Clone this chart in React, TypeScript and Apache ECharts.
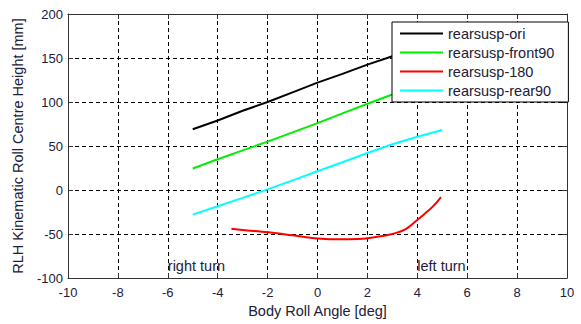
import React, { useEffect, useRef } from "react";
import * as echarts from "echarts";

// Body roll angle [deg] vs. kinematic roll centre height [mm]
const oriX = [-5, -4, -3, -2, -1, 0, 1, 2, 3, 4, 5];
const oriY = [69, 79, 90, 100, 111, 122, 132, 142.5, 152, 162, 172];

const front90X = [-5, -4, -3, -2, -1, 0, 1, 2, 3, 4, 5];
const front90Y = [24.5, 35, 45, 55, 65.5, 76, 87, 98, 108.5, 119, 129];

const rear90X = [-5, -4, -3, -2, -1, 0, 1, 2, 3, 4, 5];
const rear90Y = [-28, -18.5, -9, 0.7, 11, 21.3, 31.5, 42, 52, 60.5, 68.2];

const rear180X = [-3.45, -3, -2, -1, 0, 1, 1.8, 2.2, 2.6, 3, 3.5, 4, 4.3, 4.65, 4.95];
const rear180Y = [-44, -45.5, -48, -51.5, -55, -56, -55.5, -54, -52.3, -50, -45, -34, -27, -18, -8];

const seriesNames = ["rearsusp-ori", "rearsusp-front90", "rearsusp-180", "rearsusp-rear90"];
const seriesColors = ["#000000", "#00ee00", "#ff0000", "#00ffff"];

const turnLabels = ["right turn", "left turn"];
const turnX = [-6, 4];
const turnY = [-86, -86];

const xTicks = { min: -10, max: 10, interval: 2 };
const yTicks = { min: -100, max: 200, interval: 50 };

const textColor = "#20203a";
const fontFamily = "'Liberation Sans', Arial, sans-serif";

const pairs = (xs: number[], ys: number[]) => xs.map((x, i) => [x, ys[i]]);

export default function App() {
  const ref = useRef<HTMLDivElement>(null);

  useEffect(() => {
    if (!ref.current) return;
    const chart = echarts.init(ref.current, undefined, { renderer: "svg" });

    const lineData = [
      pairs(oriX, oriY),
      pairs(front90X, front90Y),
      pairs(rear180X, rear180Y),
      pairs(rear90X, rear90Y),
    ];

    const axisLine = { show: true, onZero: false, lineStyle: { color: "#333", width: 1 } };
    const axisTick = { show: true, inside: true, length: 5, lineStyle: { color: "#333" } };
    const splitLine = { show: true, lineStyle: { color: "#000", type: [4, 3] as any, width: 1 } };
    const tickStyle = { color: textColor, fontSize: 13, fontFamily };
    const textStyle = { color: textColor, fontSize: 14.5, fontFamily };

    chart.setOption({
      animation: false,
      backgroundColor: "#fff",
      textStyle: { fontFamily },
      grid: { left: 68, right: 14, top: 14, bottom: 46, containLabel: false },
      xAxis: [
        {
          type: "value",
          ...xTicks,
          position: "bottom",
          axisLine,
          axisTick,
          splitLine,
          axisLabel: { ...tickStyle, margin: 8 },
          name: "Body Roll Angle [deg]",
          nameLocation: "middle",
          nameGap: 24,
          nameTextStyle: { ...textStyle },
        },
        {
          type: "value",
          ...xTicks,
          position: "top",
          axisLine,
          axisTick,
          splitLine: { show: false },
          axisLabel: { show: false },
        },
      ],
      yAxis: [
        {
          type: "value",
          ...yTicks,
          position: "left",
          axisLine,
          axisTick,
          splitLine,
          axisLabel: { ...tickStyle, margin: 5 },
          name: "RLH Kinematic Roll Centre Height [mm]",
          nameLocation: "middle",
          nameGap: 43,
          nameTextStyle: { ...textStyle },
        },
        {
          type: "value",
          ...yTicks,
          position: "right",
          axisLine,
          axisTick,
          splitLine: { show: false },
          axisLabel: { show: false },
        },
      ],
      legend: {
        data: seriesNames,
        orient: "vertical",
        left: 392,
        top: 22,
        backgroundColor: "#fff",
        borderColor: "#000",
        borderWidth: 1,
        borderRadius: 0,
        padding: [4, 14, 4, 8],
        itemGap: 4,
        itemWidth: 43,
        itemHeight: 2,
        icon: "rect",
        textStyle: { ...textStyle, padding: [0, 0, 0, 0] },
      },
      series: [
        ...seriesNames.map((name, i) => ({
          name,
          type: "line",
          data: lineData[i],
          showSymbol: false,
          symbol: "none",
          smooth: name === "rearsusp-180" ? 0.35 : false,
          color: seriesColors[i],
          lineStyle: { width: 2, color: seriesColors[i] },
          z: 3,
        })),
        {
          name: "turn",
          type: "scatter",
          symbolSize: 0,
          itemStyle: { opacity: 1 },
          data: turnLabels.map((t, i) => ({ value: [turnX[i], turnY[i]], name: t })),
          label: {
            show: true,
            position: [0, 0],
            align: "left",
            verticalAlign: "middle",
            opacity: 1,
            formatter: (p: any) => p.name,
            ...textStyle,
          },
          emphasis: { disabled: true },
          silent: true,
          z: 2,
        },
      ],
    });

    return () => chart.dispose();
  }, []);

  return (
    <div
      ref={ref}
      style={{ position: "fixed", left: 0, top: 0, width: 581, height: 324 }}
    />
  );
}
